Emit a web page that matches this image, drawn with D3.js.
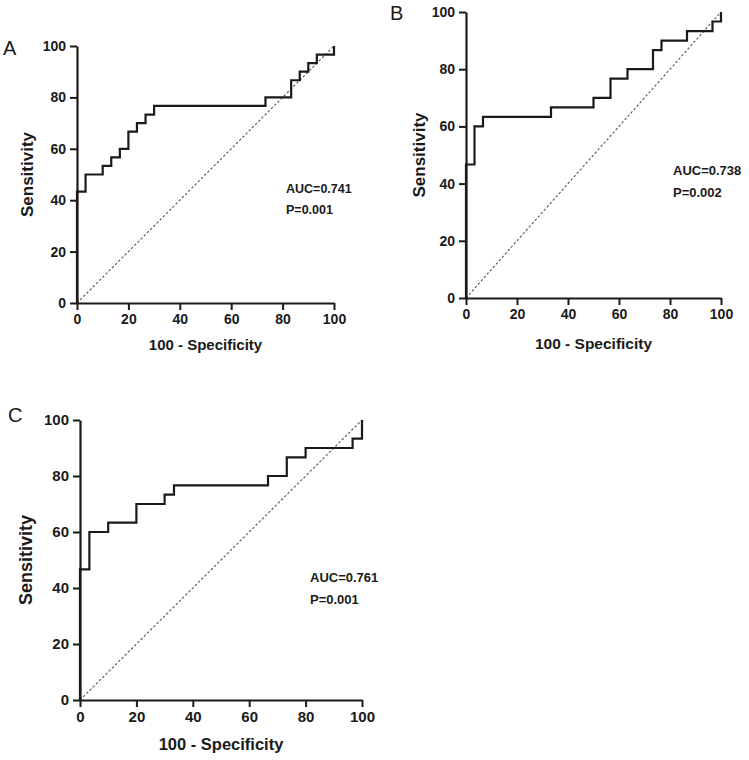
<!DOCTYPE html>
<html><head><meta charset="utf-8">
<script src="https://cdn.jsdelivr.net/npm/d3@7"></script>
<style>body{margin:0;background:#fff}svg{display:block}text{font-family:"Liberation Sans",Arial,sans-serif}</style>
</head><body><svg id="c" width="749" height="760"></svg>
<script>
const tickValues = [0, 20, 40, 60, 80, 100];
const xTitle = "100 - Specificity";
const yTitle = "Sensitivity";
// ROC step points (100 - specificity, sensitivity)
const rocA_x = [0, 0, 3.33, 10, 13.33, 16.67, 20, 23.33, 26.67, 30, 73.33, 83.33, 86.67, 90, 93.33, 100];
const rocA_y = [0, 43.33, 50, 53.33, 56.67, 60, 66.67, 70, 73.33, 76.67, 80, 86.67, 90, 93.33, 96.67, 100];
const rocB_x = [0, 0, 3.33, 6.67, 33.33, 50, 56.67, 63.33, 73.33, 76.67, 86.67, 96.67, 100];
const rocB_y = [0, 46.67, 60, 63.33, 66.67, 70, 76.67, 80, 86.67, 90, 93.33, 96.67, 100];
const rocC_x = [0, 0, 3.33, 10, 20, 30, 33.33, 66.67, 73.33, 80, 96.67, 100];
const rocC_y = [0, 46.67, 60, 63.33, 70, 73.33, 76.67, 80, 86.67, 90, 93.33, 100];
const panelLabels = ["A", "B", "C"];
const aucLabels = ["AUC=0.741", "AUC=0.738", "AUC=0.761"];
const pLabels = ["P=0.001", "P=0.002", "P=0.001"];

const panels = [
  {xs: rocA_x, ys: rocA_y, x0: 77, x1: 334, y0: 303, y1: 46, tick: 14, title: 15, ytitle: 17, note: 12.5,
   lab: [3, 55], note_xy: [286, 193, 21], ytx: 27, xtb: 350},
  {xs: rocB_x, ys: rocB_y, x0: 466, x1: 721, y0: 298, y1: 12, tick: 14, title: 15.5, ytitle: 17, note: 13,
   lab: [390, 20], note_xy: [673, 175, 22], ytx: 419, xtb: 349},
  {xs: rocC_x, ys: rocC_y, x0: 80, x1: 362, y0: 700, y1: 420, tick: 15, title: 16.5, ytitle: 18, note: 13,
   lab: [8, 422], note_xy: [310, 582, 22], ytx: 26, xtb: 750}
];

const svg = d3.select("#c");
panels.forEach((p, i) => {
  const x = d3.scaleLinear().domain([0, 100]).range([p.x0, p.x1]);
  const y = d3.scaleLinear().domain([0, 100]).range([p.y0, p.y1]);
  const g = svg.append("g");

  // diagonal reference
  g.append("line").attr("x1", x(0)).attr("y1", y(0)).attr("x2", x(100)).attr("y2", y(100))
    .attr("stroke", "#555").attr("stroke-width", 1.1).attr("stroke-dasharray", "2.5,2");

  const pts = p.xs.map((v, k) => [v, p.ys[k]]);
  const line = d3.line().x(d => x(d[0])).y(d => y(d[1])).curve(d3.curveStepAfter);
  g.append("path").attr("d", line(pts)).attr("fill", "none").attr("stroke", "#1a1a1a").attr("stroke-width", 2.2);

  const xa = g.append("g").attr("transform", `translate(0,${p.y0})`)
    .call(d3.axisBottom(x).tickValues(tickValues).tickSize(7).tickSizeOuter(0).tickPadding(4));
  const ya = g.append("g").attr("transform", `translate(${p.x0},0)`)
    .call(d3.axisLeft(y).tickValues(tickValues).tickSize(7).tickSizeOuter(0).tickPadding(4));
  [xa, ya].forEach(a => {
    a.select(".domain").attr("stroke", "#1a1a1a").attr("stroke-width", 2.2);
    a.selectAll(".tick line").attr("stroke", "#1a1a1a").attr("stroke-width", 2);
    a.selectAll(".tick text").attr("fill", "#1a1a1a").style("font-size", p.tick + "px").style("font-weight", "bold")
      .style("font-family", '"Liberation Sans", Arial, sans-serif');
  });

  g.append("text").attr("x", (p.x0 + p.x1) / 2).attr("y", p.xtb).attr("text-anchor", "middle")
    .style("font-size", p.title + "px").style("font-weight", "bold").attr("fill", "#1a1a1a").text(xTitle);
  g.append("text").attr("transform", `translate(${p.ytx},${(p.y0 + p.y1) / 2}) rotate(-90)`)
    .attr("text-anchor", "middle").attr("dy", "0.35em")
    .style("font-size", p.ytitle + "px").style("font-weight", "bold").attr("fill", "#1a1a1a").text(yTitle);

  g.append("text").attr("x", p.lab[0]).attr("y", p.lab[1]).style("font-size", "20px")
    .attr("fill", "#1a1a1a").text(panelLabels[i]);

  g.append("text").attr("x", p.note_xy[0]).attr("y", p.note_xy[1]).style("font-size", p.note + "px")
    .style("font-weight", "bold").attr("fill", "#1a1a1a").text(aucLabels[i]);
  g.append("text").attr("x", p.note_xy[0]).attr("y", p.note_xy[1] + p.note_xy[2]).style("font-size", p.note + "px")
    .style("font-weight", "bold").attr("fill", "#1a1a1a").text(pLabels[i]);
});
</script></body></html>
